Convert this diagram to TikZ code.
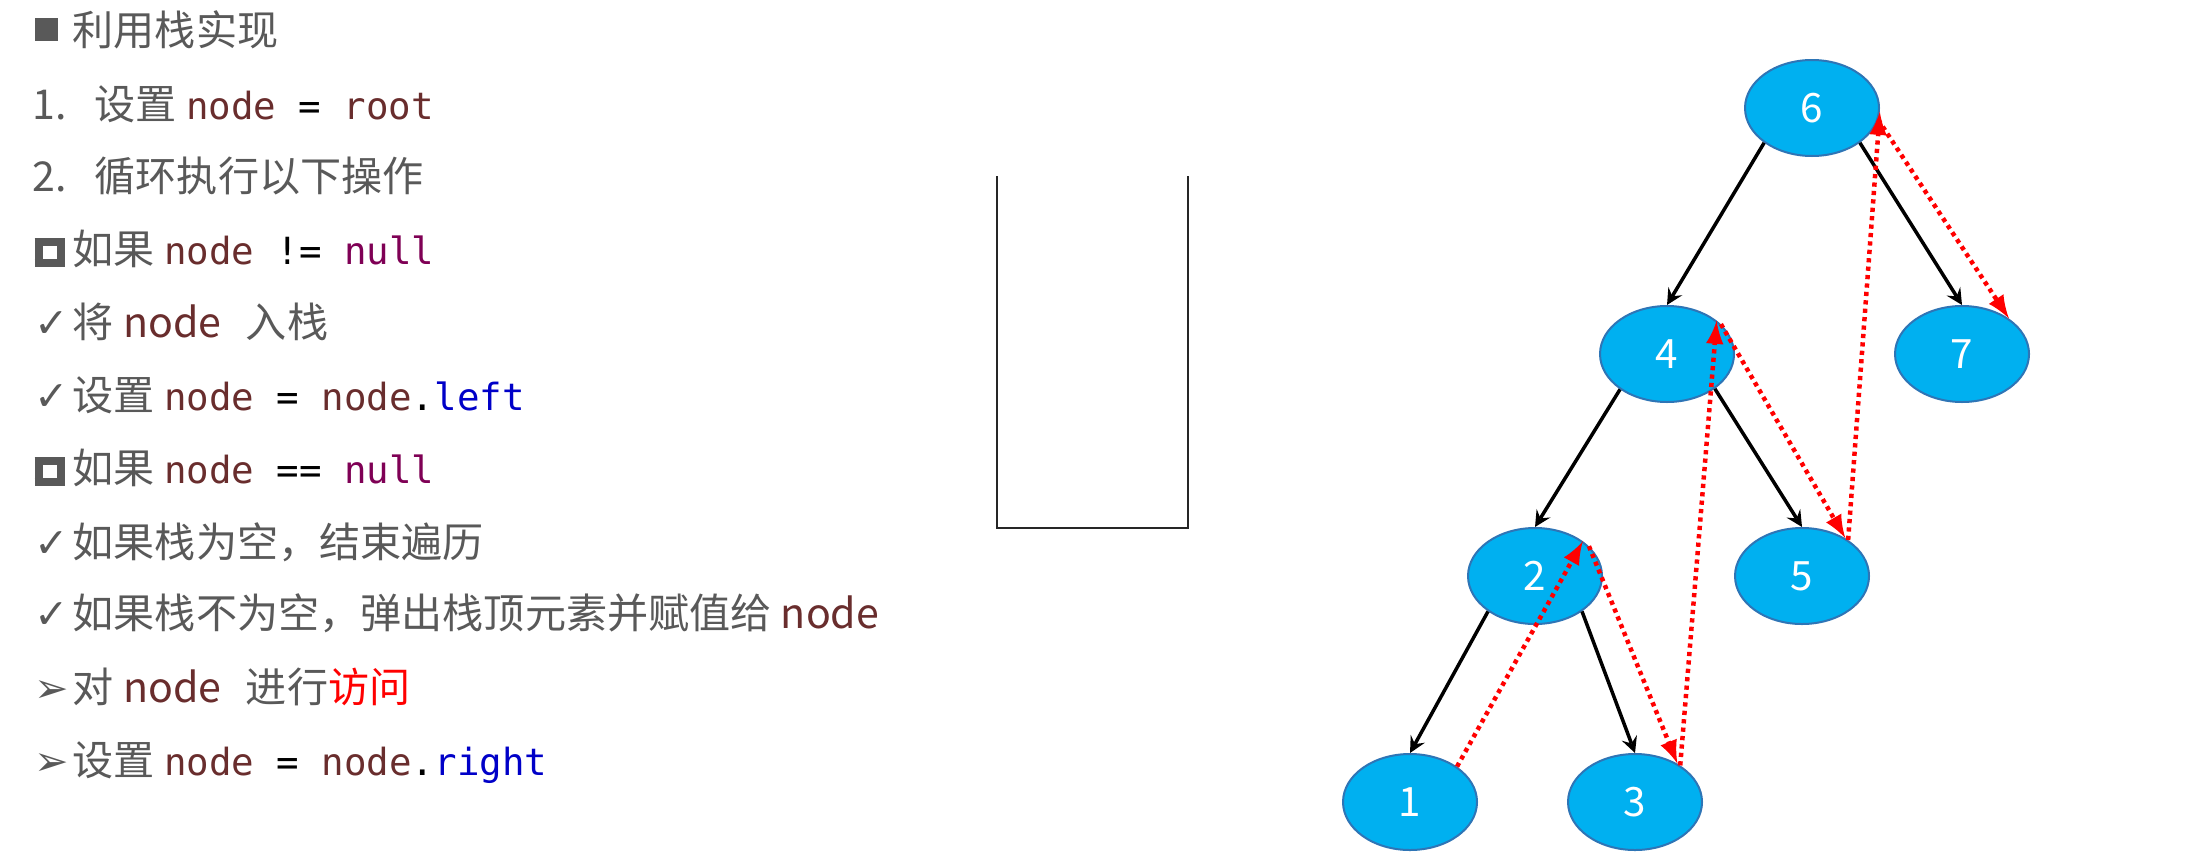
\documentclass[tikz,border=0pt]{standalone}
\usepackage{fontspec}
\setmainfont{Noto Sans CJK SC}
\setmonofont[Scale=0.91]{DejaVu Sans Mono}
\newfontfamily\symfont{DejaVu Sans}
\usepackage{tikz}
\usetikzlibrary{shapes.geometric, arrows}

\definecolor{txtgray}{RGB}{89,89,89}
\definecolor{varbrown}{RGB}{105,45,45}
\definecolor{kwpurple}{RGB}{127,0,85}
\definecolor{fieldblue}{RGB}{0,0,200}
\definecolor{nodecyan}{RGB}{0,176,240}
\definecolor{nodeedge}{RGB}{46,117,182}
\definecolor{tracered}{RGB}{255,0,0}

\newcommand{\vname}[1]{\textcolor{varbrown}{#1}}
\newcommand{\kwd}[1]{\textcolor{kwpurple}{#1}}
\newcommand{\fld}[1]{\textcolor{fieldblue}{#1}}
\newcommand{\opr}[1]{\textcolor{black}{#1}}
\newcommand{\bul}[1]{\makebox[0.38cm][l]{#1}}
\newcommand{\fullsq}{\raisebox{0.04cm}{\rule{0.23cm}{0.23cm}}}
\newcommand{\hollowsq}{\raisebox{0.05cm}{\setlength{\fboxrule}{0.08cm}\setlength{\fboxsep}{0pt}\fbox{\rule{0pt}{0.13cm}\hspace{0.14cm}}}}

\begin{document}
\begin{tikzpicture}
	\tikzstyle{line} = [anchor = base west, inner sep = 0pt, text = txtgray, font = \fontsize{11.7}{14}\selectfont]
	\tikzstyle{tnode} = [ellipse, minimum width = 1.34cm, minimum height = 0.96cm, inner sep = 0pt, fill = nodecyan, draw = nodeedge, line width = 0.2mm, text = white, font = \fontsize{11.5}{13}\selectfont]
	\tikzstyle{edge} = [-stealth, line width = 0.35mm, black]
	\tikzstyle{trace} = [-latex, line width = 0.45mm, tracered, dash pattern = on 1.2pt off 1.2pt]
	\useasboundingbox[fill = white] (0, 0) rectangle (22.06, -8.66);

	% steps
	\node[line] at (0.34, -0.45) (l1) {\bul{\fullsq}利用栈实现};
	\node[line] at (0.32, -1.19) (l2) {\makebox[0.62cm][l]{1.}设置 \texttt{\vname{node} \opr{=} \vname{root}}};
	\node[line] at (0.32, -1.91) (l3) {\makebox[0.62cm][l]{2.}循环执行以下操作};
	\node[line] at (0.34, -2.64) (l4) {\bul{\hollowsq}如果 \texttt{\vname{node} \opr{!=} \kwd{null}}};
	\node[line] at (0.34, -3.37) (l5) {\bul{\symfont ✓}将 \vname{node}\hspace{0.6em}入栈};
	\node[line] at (0.34, -4.10) (l6) {\bul{\symfont ✓}设置 \texttt{\vname{node} \opr{=} \vname{node}\opr{.}\fld{left}}};
	\node[line] at (0.34, -4.83) (l7) {\bul{\hollowsq}如果 \texttt{\vname{node} \opr{==} \kwd{null}}};
	\node[line] at (0.34, -5.57) (l8) {\bul{\symfont ✓}如果栈为空，结束遍历};
	\node[line] at (0.34, -6.28) (l9) {\bul{\symfont ✓}如果栈不为空，弹出栈顶元素并赋值给 \vname{node}};
	\node[line] at (0.34, -7.02) (l10) {\bul{\symfont ➢}对 \vname{node}\hspace{0.6em}进行\textcolor{tracered}{访问}};
	\node[line] at (0.34, -7.75) (l11) {\bul{\symfont ➢}设置 \texttt{\vname{node} \opr{=} \vname{node}\opr{.}\fld{right}}};

	% stack
	\draw[line width = 0.25mm, black!85] (9.97, -1.76) -- (9.97, -5.28) -- (11.88, -5.28) -- (11.88, -1.76);

	% tree
	\node[tnode] at (18.12, -1.08) (n6) {6};
	\node[tnode] at (16.67, -3.54) (n4) {4};
	\node[tnode] at (19.62, -3.54) (n7) {7};
	\node[tnode] at (15.35, -5.76) (n2) {2};
	\node[tnode] at (18.02, -5.76) (n5) {5};
	\node[tnode] at (14.10, -8.02) (n1) {1};
	\node[tnode] at (16.35, -8.02) (n3) {3};

	\draw[edge] (n6.-144) -- (n4.north);
	\draw[edge] (n6.-36) -- (n7.north);
	\draw[edge] (n4.-143) -- (n2.north);
	\draw[edge] (n4.-36) -- (n5.north);
	\draw[edge] (n2.-143) -- (n1.north);
	\draw[edge] (n2.-37) -- (n3.north);

	% in-order trace
	\draw[trace] (n1.37) -- (n2.36);
	\draw[trace] (n2.29) -- (n3.42);
	\draw[trace] (n3.39) -- (n4.34);
	\draw[trace] (n4.29) -- (n5.41);
	\draw[trace] (n5.38) -- (n6.-3);
	\draw[trace] (n6.-10) -- (n7.37);
\end{tikzpicture}
\end{document}
